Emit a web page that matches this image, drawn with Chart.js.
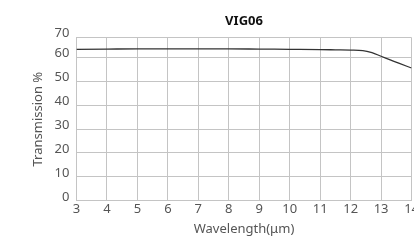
<!DOCTYPE html>
<html>
<head>
<meta charset="utf-8">
<script src="https://cdn.jsdelivr.net/npm/chart.js@4.4.0/dist/chart.umd.min.js"></script>
<style>
    html, body { margin: 0; padding: 0; background: #fff; overflow: hidden; }
    #wrap { width: 420px; height: 240px; }
</style>
</head>
<body>
<div id="wrap"><canvas id="vigChart"></canvas></div>
<script>
// Wavelength (µm) and transmission (%)
const wavelengths = [3, 4, 5, 6, 7, 8, 9, 10, 11, 11.5, 12, 12.4, 12.7, 13, 13.3, 13.6, 14];
const transmission = [63.3, 63.4, 63.5, 63.5, 63.5, 63.5, 63.4, 63.3, 63.2, 63.1, 63.0, 62.8, 61.9, 60.4, 58.9, 57.4, 55.5];

const xTicks = [3, 4, 5, 6, 7, 8, 9, 10, 11, 12, 13, 14];
const yTicks = [0, 10, 20, 30, 40, 50, 60, 68.2];
const yTickLabels = ['0', '10', '20', '30', '40', '50', '60', '70'];

const gridColor = '#c4c4c4';
const textColor = '#555';
const fontFamily = '"Noto Sans", sans-serif';

const ctx = document.getElementById('vigChart').getContext('2d');

new Chart(ctx, {
    type: 'line',
    data: {
        datasets: [{
            label: 'VIG06',
            data: wavelengths.map((w, i) => ({ x: w, y: transmission[i] })),
            borderColor: '#333',
            borderWidth: 1.3,
            pointRadius: 0,
            cubicInterpolationMode: 'monotone',
            fill: false
        }]
    },
    options: {
        responsive: true,
        maintainAspectRatio: false,
        animation: false,
        layout: { padding: { left: 30, top: 4, bottom: 3 } },
        scales: {
            x: {
                type: 'linear',
                min: 3,
                max: 14,
                afterBuildTicks: axis => { axis.ticks = xTicks.map(v => ({ value: v })); },
                grid: { color: gridColor, drawTicks: false },
                border: { color: gridColor },
                ticks: {
                    color: textColor,
                    padding: 1,
                    maxRotation: 0,
                    font: { family: fontFamily, size: 13 }
                },
                title: {
                    display: true,
                    text: 'Wavelength(μm)',
                    color: textColor,
                    padding: { top: 3, bottom: 0 },
                    font: { family: fontFamily, size: 13 }
                }
            },
            y: {
                min: 0,
                max: 68.2,
                afterBuildTicks: axis => { axis.ticks = yTicks.map(v => ({ value: v })); },
                grid: { color: gridColor, drawTicks: false },
                border: { color: gridColor },
                ticks: {
                    color: textColor,
                    padding: 7,
                    labelOffset: -4,
                    font: { family: fontFamily, size: 13 },
                    callback: (value) => yTickLabels[yTicks.indexOf(value)]
                },
                title: {
                    display: true,
                    text: 'Transmission %',
                    color: textColor,
                    padding: { top: 0, bottom: 2 },
                    font: { family: fontFamily, size: 13 }
                }
            }
        },
        plugins: {
            legend: { display: false },
            tooltip: { enabled: false },
            title: {
                display: true,
                text: 'VIG06',
                fullSize: false,
                color: '#111',
                padding: { top: 9, bottom: 9 },
                font: { family: fontFamily, size: 13, weight: 'bold' }
            }
        }
    }
});
</script>
</body>
</html>
